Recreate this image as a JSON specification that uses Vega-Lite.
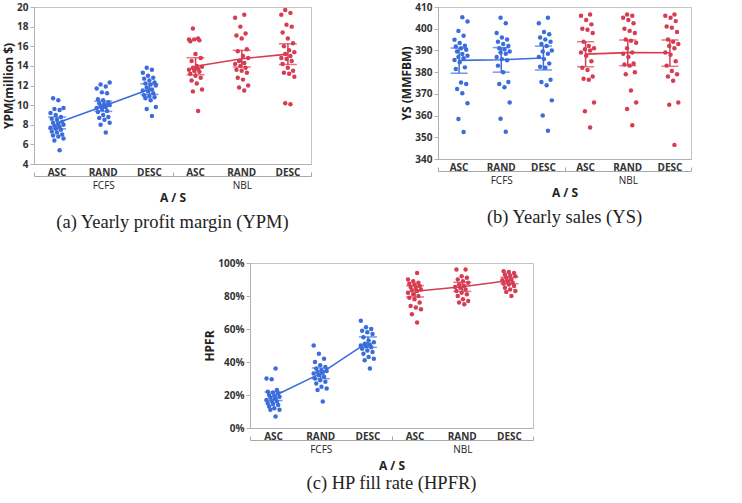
{
  "$schema": "https://vega.github.io/schema/vega-lite/v6.json",
  "padding": {"left": 2, "top": 1, "right": 0, "bottom": 0},
  "background": "white",
  "datasets": {
    "a": [
      {"A":"FCFS","S":"ASC","v":10.7},{"A":"FCFS","S":"ASC","v":10.5},{"A":"FCFS","S":"ASC","v":9.7},{"A":"FCFS","S":"ASC","v":9.6},{"A":"FCFS","S":"ASC","v":9.5},{"A":"FCFS","S":"ASC","v":9.2},{"A":"FCFS","S":"ASC","v":9.0},{"A":"FCFS","S":"ASC","v":8.8},{"A":"FCFS","S":"ASC","v":8.6},{"A":"FCFS","S":"ASC","v":8.5},{"A":"FCFS","S":"ASC","v":8.3},{"A":"FCFS","S":"ASC","v":8.2},{"A":"FCFS","S":"ASC","v":8.1},{"A":"FCFS","S":"ASC","v":8.0},{"A":"FCFS","S":"ASC","v":7.9},{"A":"FCFS","S":"ASC","v":7.8},{"A":"FCFS","S":"ASC","v":7.7},{"A":"FCFS","S":"ASC","v":7.6},{"A":"FCFS","S":"ASC","v":7.5},{"A":"FCFS","S":"ASC","v":7.3},{"A":"FCFS","S":"ASC","v":7.2},{"A":"FCFS","S":"ASC","v":7.0},{"A":"FCFS","S":"ASC","v":6.9},{"A":"FCFS","S":"ASC","v":6.8},{"A":"FCFS","S":"ASC","v":6.6},{"A":"FCFS","S":"ASC","v":6.4},{"A":"FCFS","S":"ASC","v":5.4},
      {"A":"FCFS","S":"RAND","v":12.3},{"A":"FCFS","S":"RAND","v":12.1},{"A":"FCFS","S":"RAND","v":11.9},{"A":"FCFS","S":"RAND","v":11.7},{"A":"FCFS","S":"RAND","v":11.3},{"A":"FCFS","S":"RAND","v":11.2},{"A":"FCFS","S":"RAND","v":10.6},{"A":"FCFS","S":"RAND","v":10.5},{"A":"FCFS","S":"RAND","v":10.3},{"A":"FCFS","S":"RAND","v":10.2},{"A":"FCFS","S":"RAND","v":10.1},{"A":"FCFS","S":"RAND","v":10.0},{"A":"FCFS","S":"RAND","v":9.9},{"A":"FCFS","S":"RAND","v":9.8},{"A":"FCFS","S":"RAND","v":9.7},{"A":"FCFS","S":"RAND","v":9.6},{"A":"FCFS","S":"RAND","v":9.4},{"A":"FCFS","S":"RAND","v":9.3},{"A":"FCFS","S":"RAND","v":9.0},{"A":"FCFS","S":"RAND","v":8.8},{"A":"FCFS","S":"RAND","v":8.7},{"A":"FCFS","S":"RAND","v":8.5},{"A":"FCFS","S":"RAND","v":8.2},{"A":"FCFS","S":"RAND","v":8.0},{"A":"FCFS","S":"RAND","v":7.2},
      {"A":"FCFS","S":"DESC","v":13.8},{"A":"FCFS","S":"DESC","v":13.6},{"A":"FCFS","S":"DESC","v":13.3},{"A":"FCFS","S":"DESC","v":13.0},{"A":"FCFS","S":"DESC","v":12.8},{"A":"FCFS","S":"DESC","v":12.7},{"A":"FCFS","S":"DESC","v":12.5},{"A":"FCFS","S":"DESC","v":12.3},{"A":"FCFS","S":"DESC","v":12.2},{"A":"FCFS","S":"DESC","v":12.1},{"A":"FCFS","S":"DESC","v":12.0},{"A":"FCFS","S":"DESC","v":11.8},{"A":"FCFS","S":"DESC","v":11.6},{"A":"FCFS","S":"DESC","v":11.5},{"A":"FCFS","S":"DESC","v":11.4},{"A":"FCFS","S":"DESC","v":11.2},{"A":"FCFS","S":"DESC","v":11.0},{"A":"FCFS","S":"DESC","v":10.9},{"A":"FCFS","S":"DESC","v":10.8},{"A":"FCFS","S":"DESC","v":10.7},{"A":"FCFS","S":"DESC","v":10.5},{"A":"FCFS","S":"DESC","v":9.8},{"A":"FCFS","S":"DESC","v":9.6},{"A":"FCFS","S":"DESC","v":8.9},
      {"A":"NBL","S":"ASC","v":17.8},{"A":"NBL","S":"ASC","v":16.8},{"A":"NBL","S":"ASC","v":16.7},{"A":"NBL","S":"ASC","v":16.7},{"A":"NBL","S":"ASC","v":16.6},{"A":"NBL","S":"ASC","v":16.5},{"A":"NBL","S":"ASC","v":15.2},{"A":"NBL","S":"ASC","v":14.8},{"A":"NBL","S":"ASC","v":14.5},{"A":"NBL","S":"ASC","v":14.0},{"A":"NBL","S":"ASC","v":13.9},{"A":"NBL","S":"ASC","v":13.8},{"A":"NBL","S":"ASC","v":13.7},{"A":"NBL","S":"ASC","v":13.6},{"A":"NBL","S":"ASC","v":13.5},{"A":"NBL","S":"ASC","v":13.4},{"A":"NBL","S":"ASC","v":13.2},{"A":"NBL","S":"ASC","v":13.0},{"A":"NBL","S":"ASC","v":12.8},{"A":"NBL","S":"ASC","v":12.5},{"A":"NBL","S":"ASC","v":12.2},{"A":"NBL","S":"ASC","v":11.6},{"A":"NBL","S":"ASC","v":11.4},{"A":"NBL","S":"ASC","v":9.4},
      {"A":"NBL","S":"RAND","v":19.2},{"A":"NBL","S":"RAND","v":18.9},{"A":"NBL","S":"RAND","v":18.0},{"A":"NBL","S":"RAND","v":17.3},{"A":"NBL","S":"RAND","v":17.1},{"A":"NBL","S":"RAND","v":16.8},{"A":"NBL","S":"RAND","v":15.7},{"A":"NBL","S":"RAND","v":15.5},{"A":"NBL","S":"RAND","v":15.0},{"A":"NBL","S":"RAND","v":14.8},{"A":"NBL","S":"RAND","v":14.5},{"A":"NBL","S":"RAND","v":14.3},{"A":"NBL","S":"RAND","v":14.2},{"A":"NBL","S":"RAND","v":14.0},{"A":"NBL","S":"RAND","v":13.8},{"A":"NBL","S":"RAND","v":13.6},{"A":"NBL","S":"RAND","v":13.5},{"A":"NBL","S":"RAND","v":13.3},{"A":"NBL","S":"RAND","v":12.8},{"A":"NBL","S":"RAND","v":12.6},{"A":"NBL","S":"RAND","v":12.0},{"A":"NBL","S":"RAND","v":11.8},{"A":"NBL","S":"RAND","v":11.5},
      {"A":"NBL","S":"DESC","v":19.7},{"A":"NBL","S":"DESC","v":19.4},{"A":"NBL","S":"DESC","v":19.2},{"A":"NBL","S":"DESC","v":18.2},{"A":"NBL","S":"DESC","v":18.0},{"A":"NBL","S":"DESC","v":17.4},{"A":"NBL","S":"DESC","v":16.8},{"A":"NBL","S":"DESC","v":16.3},{"A":"NBL","S":"DESC","v":16.0},{"A":"NBL","S":"DESC","v":15.6},{"A":"NBL","S":"DESC","v":15.4},{"A":"NBL","S":"DESC","v":15.2},{"A":"NBL","S":"DESC","v":15.0},{"A":"NBL","S":"DESC","v":14.8},{"A":"NBL","S":"DESC","v":14.7},{"A":"NBL","S":"DESC","v":14.5},{"A":"NBL","S":"DESC","v":14.2},{"A":"NBL","S":"DESC","v":13.8},{"A":"NBL","S":"DESC","v":13.5},{"A":"NBL","S":"DESC","v":13.3},{"A":"NBL","S":"DESC","v":13.2},{"A":"NBL","S":"DESC","v":12.9},{"A":"NBL","S":"DESC","v":10.2},{"A":"NBL","S":"DESC","v":10.1}
    ],
    "as": [
      {"A":"FCFS","S":"ASC","m":8.18,"lo":7.58,"hi":8.78},{"A":"FCFS","S":"RAND","m":9.88,"lo":9.36,"hi":10.4},{"A":"FCFS","S":"DESC","m":11.63,"lo":11.09,"hi":12.17},
      {"A":"NBL","S":"ASC","m":13.96,"lo":13.09,"hi":14.83},{"A":"NBL","S":"RAND","m":14.73,"lo":13.88,"hi":15.58},{"A":"NBL","S":"DESC","m":15.2,"lo":14.15,"hi":16.26}
    ],
    "b": [
      {"A":"FCFS","S":"ASC","v":405.3},{"A":"FCFS","S":"ASC","v":403.3},{"A":"FCFS","S":"ASC","v":399},{"A":"FCFS","S":"ASC","v":396.8},{"A":"FCFS","S":"ASC","v":394.9},{"A":"FCFS","S":"ASC","v":393.4},{"A":"FCFS","S":"ASC","v":392.2},{"A":"FCFS","S":"ASC","v":391.8},{"A":"FCFS","S":"ASC","v":391},{"A":"FCFS","S":"ASC","v":390.3},{"A":"FCFS","S":"ASC","v":389.5},{"A":"FCFS","S":"ASC","v":388.4},{"A":"FCFS","S":"ASC","v":387.5},{"A":"FCFS","S":"ASC","v":387},{"A":"FCFS","S":"ASC","v":386.4},{"A":"FCFS","S":"ASC","v":385.6},{"A":"FCFS","S":"ASC","v":384.5},{"A":"FCFS","S":"ASC","v":382.2},{"A":"FCFS","S":"ASC","v":381.4},{"A":"FCFS","S":"ASC","v":375.2},{"A":"FCFS","S":"ASC","v":374.5},{"A":"FCFS","S":"ASC","v":372.2},{"A":"FCFS","S":"ASC","v":370.3},{"A":"FCFS","S":"ASC","v":365.7},{"A":"FCFS","S":"ASC","v":358.4},{"A":"FCFS","S":"ASC","v":352.4},
      {"A":"FCFS","S":"RAND","v":405},{"A":"FCFS","S":"RAND","v":402.5},{"A":"FCFS","S":"RAND","v":398},{"A":"FCFS","S":"RAND","v":396},{"A":"FCFS","S":"RAND","v":395},{"A":"FCFS","S":"RAND","v":394},{"A":"FCFS","S":"RAND","v":393},{"A":"FCFS","S":"RAND","v":392},{"A":"FCFS","S":"RAND","v":391},{"A":"FCFS","S":"RAND","v":390.5},{"A":"FCFS","S":"RAND","v":389.5},{"A":"FCFS","S":"RAND","v":389},{"A":"FCFS","S":"RAND","v":388.5},{"A":"FCFS","S":"RAND","v":387},{"A":"FCFS","S":"RAND","v":386},{"A":"FCFS","S":"RAND","v":385.5},{"A":"FCFS","S":"RAND","v":383},{"A":"FCFS","S":"RAND","v":380},{"A":"FCFS","S":"RAND","v":375.5},{"A":"FCFS","S":"RAND","v":374.5},{"A":"FCFS","S":"RAND","v":373},{"A":"FCFS","S":"RAND","v":366},{"A":"FCFS","S":"RAND","v":358.5},{"A":"FCFS","S":"RAND","v":352.5},
      {"A":"FCFS","S":"DESC","v":405},{"A":"FCFS","S":"DESC","v":402.5},{"A":"FCFS","S":"DESC","v":398.5},{"A":"FCFS","S":"DESC","v":397.5},{"A":"FCFS","S":"DESC","v":396},{"A":"FCFS","S":"DESC","v":395},{"A":"FCFS","S":"DESC","v":394},{"A":"FCFS","S":"DESC","v":393},{"A":"FCFS","S":"DESC","v":392},{"A":"FCFS","S":"DESC","v":390},{"A":"FCFS","S":"DESC","v":389.5},{"A":"FCFS","S":"DESC","v":388.5},{"A":"FCFS","S":"DESC","v":387},{"A":"FCFS","S":"DESC","v":386},{"A":"FCFS","S":"DESC","v":384},{"A":"FCFS","S":"DESC","v":382.5},{"A":"FCFS","S":"DESC","v":382},{"A":"FCFS","S":"DESC","v":376.5},{"A":"FCFS","S":"DESC","v":375.5},{"A":"FCFS","S":"DESC","v":374},{"A":"FCFS","S":"DESC","v":367},{"A":"FCFS","S":"DESC","v":360},{"A":"FCFS","S":"DESC","v":353},
      {"A":"NBL","S":"ASC","v":406.5},{"A":"NBL","S":"ASC","v":406},{"A":"NBL","S":"ASC","v":404},{"A":"NBL","S":"ASC","v":402},{"A":"NBL","S":"ASC","v":400},{"A":"NBL","S":"ASC","v":399.5},{"A":"NBL","S":"ASC","v":398},{"A":"NBL","S":"ASC","v":394},{"A":"NBL","S":"ASC","v":392},{"A":"NBL","S":"ASC","v":391},{"A":"NBL","S":"ASC","v":390.5},{"A":"NBL","S":"ASC","v":390},{"A":"NBL","S":"ASC","v":389},{"A":"NBL","S":"ASC","v":387.5},{"A":"NBL","S":"ASC","v":385},{"A":"NBL","S":"ASC","v":382},{"A":"NBL","S":"ASC","v":381},{"A":"NBL","S":"ASC","v":378},{"A":"NBL","S":"ASC","v":377},{"A":"NBL","S":"ASC","v":376.5},{"A":"NBL","S":"ASC","v":366},{"A":"NBL","S":"ASC","v":362},{"A":"NBL","S":"ASC","v":354.5},
      {"A":"NBL","S":"RAND","v":406.5},{"A":"NBL","S":"RAND","v":406},{"A":"NBL","S":"RAND","v":405},{"A":"NBL","S":"RAND","v":404},{"A":"NBL","S":"RAND","v":402.5},{"A":"NBL","S":"RAND","v":400},{"A":"NBL","S":"RAND","v":399},{"A":"NBL","S":"RAND","v":398},{"A":"NBL","S":"RAND","v":395},{"A":"NBL","S":"RAND","v":394.5},{"A":"NBL","S":"RAND","v":393.5},{"A":"NBL","S":"RAND","v":391},{"A":"NBL","S":"RAND","v":389},{"A":"NBL","S":"RAND","v":388.5},{"A":"NBL","S":"RAND","v":387},{"A":"NBL","S":"RAND","v":384},{"A":"NBL","S":"RAND","v":383.5},{"A":"NBL","S":"RAND","v":383},{"A":"NBL","S":"RAND","v":380},{"A":"NBL","S":"RAND","v":379},{"A":"NBL","S":"RAND","v":371.5},{"A":"NBL","S":"RAND","v":366},{"A":"NBL","S":"RAND","v":363},{"A":"NBL","S":"RAND","v":355.5},
      {"A":"NBL","S":"DESC","v":406.5},{"A":"NBL","S":"DESC","v":406},{"A":"NBL","S":"DESC","v":405},{"A":"NBL","S":"DESC","v":403.5},{"A":"NBL","S":"DESC","v":401},{"A":"NBL","S":"DESC","v":400.5},{"A":"NBL","S":"DESC","v":398.5},{"A":"NBL","S":"DESC","v":395},{"A":"NBL","S":"DESC","v":394},{"A":"NBL","S":"DESC","v":393},{"A":"NBL","S":"DESC","v":392},{"A":"NBL","S":"DESC","v":391},{"A":"NBL","S":"DESC","v":389},{"A":"NBL","S":"DESC","v":388},{"A":"NBL","S":"DESC","v":385},{"A":"NBL","S":"DESC","v":383},{"A":"NBL","S":"DESC","v":380.5},{"A":"NBL","S":"DESC","v":379},{"A":"NBL","S":"DESC","v":378},{"A":"NBL","S":"DESC","v":376},{"A":"NBL","S":"DESC","v":366},{"A":"NBL","S":"DESC","v":365},{"A":"NBL","S":"DESC","v":346.5}
    ],
    "bs": [
      {"A":"FCFS","S":"ASC","m":385.4,"lo":379.5,"hi":391.1},{"A":"FCFS","S":"RAND","m":385.7,"lo":380,"hi":391.3},{"A":"FCFS","S":"DESC","m":386.5,"lo":381,"hi":392},
      {"A":"NBL","S":"ASC","m":388.3,"lo":382.5,"hi":394},{"A":"NBL","S":"RAND","m":389,"lo":383,"hi":394.8},{"A":"NBL","S":"DESC","m":388.9,"lo":382.7,"hi":394.8}
    ],
    "c": [
      {"A":"FCFS","S":"ASC","v":36},{"A":"FCFS","S":"ASC","v":30},{"A":"FCFS","S":"ASC","v":29.5},{"A":"FCFS","S":"ASC","v":23},{"A":"FCFS","S":"ASC","v":22},{"A":"FCFS","S":"ASC","v":21.5},{"A":"FCFS","S":"ASC","v":21},{"A":"FCFS","S":"ASC","v":20},{"A":"FCFS","S":"ASC","v":19.5},{"A":"FCFS","S":"ASC","v":19},{"A":"FCFS","S":"ASC","v":18.5},{"A":"FCFS","S":"ASC","v":18},{"A":"FCFS","S":"ASC","v":17},{"A":"FCFS","S":"ASC","v":16.5},{"A":"FCFS","S":"ASC","v":16},{"A":"FCFS","S":"ASC","v":15},{"A":"FCFS","S":"ASC","v":14.5},{"A":"FCFS","S":"ASC","v":14},{"A":"FCFS","S":"ASC","v":13},{"A":"FCFS","S":"ASC","v":12},{"A":"FCFS","S":"ASC","v":11},{"A":"FCFS","S":"ASC","v":11},{"A":"FCFS","S":"ASC","v":7},
      {"A":"FCFS","S":"RAND","v":50},{"A":"FCFS","S":"RAND","v":45},{"A":"FCFS","S":"RAND","v":42},{"A":"FCFS","S":"RAND","v":40},{"A":"FCFS","S":"RAND","v":38},{"A":"FCFS","S":"RAND","v":37},{"A":"FCFS","S":"RAND","v":36},{"A":"FCFS","S":"RAND","v":35},{"A":"FCFS","S":"RAND","v":34.5},{"A":"FCFS","S":"RAND","v":34},{"A":"FCFS","S":"RAND","v":33.5},{"A":"FCFS","S":"RAND","v":33},{"A":"FCFS","S":"RAND","v":32},{"A":"FCFS","S":"RAND","v":31},{"A":"FCFS","S":"RAND","v":30},{"A":"FCFS","S":"RAND","v":29},{"A":"FCFS","S":"RAND","v":28},{"A":"FCFS","S":"RAND","v":27},{"A":"FCFS","S":"RAND","v":25},{"A":"FCFS","S":"RAND","v":24},{"A":"FCFS","S":"RAND","v":23},{"A":"FCFS","S":"RAND","v":16},
      {"A":"FCFS","S":"DESC","v":65},{"A":"FCFS","S":"DESC","v":61},{"A":"FCFS","S":"DESC","v":60},{"A":"FCFS","S":"DESC","v":59},{"A":"FCFS","S":"DESC","v":58},{"A":"FCFS","S":"DESC","v":57},{"A":"FCFS","S":"DESC","v":55},{"A":"FCFS","S":"DESC","v":53},{"A":"FCFS","S":"DESC","v":52},{"A":"FCFS","S":"DESC","v":51},{"A":"FCFS","S":"DESC","v":50.5},{"A":"FCFS","S":"DESC","v":50},{"A":"FCFS","S":"DESC","v":49.5},{"A":"FCFS","S":"DESC","v":49},{"A":"FCFS","S":"DESC","v":48},{"A":"FCFS","S":"DESC","v":47},{"A":"FCFS","S":"DESC","v":46},{"A":"FCFS","S":"DESC","v":45},{"A":"FCFS","S":"DESC","v":43},{"A":"FCFS","S":"DESC","v":42},{"A":"FCFS","S":"DESC","v":41},{"A":"FCFS","S":"DESC","v":36},
      {"A":"NBL","S":"ASC","v":94},{"A":"NBL","S":"ASC","v":90},{"A":"NBL","S":"ASC","v":89},{"A":"NBL","S":"ASC","v":88},{"A":"NBL","S":"ASC","v":87.5},{"A":"NBL","S":"ASC","v":87},{"A":"NBL","S":"ASC","v":86},{"A":"NBL","S":"ASC","v":85.5},{"A":"NBL","S":"ASC","v":85},{"A":"NBL","S":"ASC","v":84},{"A":"NBL","S":"ASC","v":83.5},{"A":"NBL","S":"ASC","v":83},{"A":"NBL","S":"ASC","v":82},{"A":"NBL","S":"ASC","v":81},{"A":"NBL","S":"ASC","v":80},{"A":"NBL","S":"ASC","v":79},{"A":"NBL","S":"ASC","v":78},{"A":"NBL","S":"ASC","v":76},{"A":"NBL","S":"ASC","v":74},{"A":"NBL","S":"ASC","v":73},{"A":"NBL","S":"ASC","v":72},{"A":"NBL","S":"ASC","v":69},{"A":"NBL","S":"ASC","v":64},
      {"A":"NBL","S":"RAND","v":96},{"A":"NBL","S":"RAND","v":96},{"A":"NBL","S":"RAND","v":92},{"A":"NBL","S":"RAND","v":91},{"A":"NBL","S":"RAND","v":90},{"A":"NBL","S":"RAND","v":89},{"A":"NBL","S":"RAND","v":88},{"A":"NBL","S":"RAND","v":87},{"A":"NBL","S":"RAND","v":86},{"A":"NBL","S":"RAND","v":85.5},{"A":"NBL","S":"RAND","v":85},{"A":"NBL","S":"RAND","v":84},{"A":"NBL","S":"RAND","v":83},{"A":"NBL","S":"RAND","v":82},{"A":"NBL","S":"RAND","v":81},{"A":"NBL","S":"RAND","v":80},{"A":"NBL","S":"RAND","v":78},{"A":"NBL","S":"RAND","v":77},{"A":"NBL","S":"RAND","v":76},{"A":"NBL","S":"RAND","v":75},
      {"A":"NBL","S":"DESC","v":95},{"A":"NBL","S":"DESC","v":94.5},{"A":"NBL","S":"DESC","v":94},{"A":"NBL","S":"DESC","v":93},{"A":"NBL","S":"DESC","v":92.5},{"A":"NBL","S":"DESC","v":92},{"A":"NBL","S":"DESC","v":91},{"A":"NBL","S":"DESC","v":90},{"A":"NBL","S":"DESC","v":89.5},{"A":"NBL","S":"DESC","v":89},{"A":"NBL","S":"DESC","v":88},{"A":"NBL","S":"DESC","v":87.5},{"A":"NBL","S":"DESC","v":87},{"A":"NBL","S":"DESC","v":86},{"A":"NBL","S":"DESC","v":85},{"A":"NBL","S":"DESC","v":84},{"A":"NBL","S":"DESC","v":83},{"A":"NBL","S":"DESC","v":82.5},{"A":"NBL","S":"DESC","v":80}
    ],
    "cs": [
      {"A":"FCFS","S":"ASC","m":19.2,"lo":16.6,"hi":21.8},{"A":"FCFS","S":"RAND","m":33.1,"lo":29.9,"hi":36.4},{"A":"FCFS","S":"DESC","m":52,"lo":48.9,"hi":55.2},
      {"A":"NBL","S":"ASC","m":82.9,"lo":79.4,"hi":86.3},{"A":"NBL","S":"RAND","m":85.6,"lo":82.8,"hi":88.3},{"A":"NBL","S":"DESC","m":89.4,"lo":87.5,"hi":91.4}
    ],
    "none": []
  },
  "config": {
    "font": "Open Sans",
    "view": {"stroke": "#c4c4c4"},
    "axis": {"grid": false, "labelFont": "Open Sans", "labelFontSize": 10, "labelFontWeight": "bold", "labelColor": "#333", "titleFont": "Open Sans", "titleFontSize": 12, "titleFontWeight": "bold", "titleColor": "#222", "domainColor": "#b0b0b0", "tickColor": "#b0b0b0", "tickSize": 4},
    "axisY": {"titlePadding": 1, "labelPadding": 2, "labelOverlap": false},
    "legend": {"symbolType": "stroke", "symbolStrokeWidth": 2, "symbolSize": 300, "titleFont": "Open Sans", "titleFontSize": 10, "titleFontWeight": "normal", "titleColor": "#444", "labelFont": "Open Sans", "labelFontSize": 10, "labelColor": "#555", "offset": 3, "padding": 6, "rowPadding": 2, "titlePadding": 3},
    "title": {"font": "Liberation Serif", "fontSize": 18.5, "fontWeight": "normal", "color": "#222"}
  },
  "spacing": 25,
  "resolve": {"scale": {"x": "independent", "y": "independent", "fill": "independent", "stroke": "independent"}, "legend": {"stroke": "independent"}},
  "vconcat": [
    {
      "spacing": 88,
      "resolve": {"scale": {"x": "independent", "y": "independent", "fill": "independent", "stroke": "independent"}, "legend": {"stroke": "independent"}},
      "hconcat": [
        {
          "width": 277, "height": 157,
          "title": {"text": "(a) Yearly profit margin (YPM)", "orient": "bottom", "frame": "group", "anchor": "middle", "offset": 10},
          "resolve": {"scale": {"x": "independent"}},
          "layer": [
            {
              "encoding": {"x": {"field": "g", "type": "nominal", "scale": {"domain": ["FCFS|ASC","FCFS|RAND","FCFS|DESC","NBL|ASC","NBL|RAND","NBL|DESC"], "paddingInner": 0, "paddingOuter": 0}, "axis": {"title": null, "labelExpr": "split(datum.value, '|')[1]", "ticks": false, "labelPadding": 3, "labelAngle": 0}},
                "y": {"type": "quantitative", "scale": {"domain": [4, 20], "nice": false, "zero": false}, "axis": {"title": "YPM(million $)", "values": [4,6,8,10,12,14,16,18,20], "labelOverlap": false, "labelSeparation": 0}}},
              "layer": [
                {"data": {"name": "a"}, "transform": [{"calculate": "datum.A + '|' + datum.S", "as": "g"}, {"window": [{"op": "row_number", "as": "r"}], "groupby": ["g"], "sort": [{"field": "v"}]}, {"calculate": "((datum.r * 7) % 11) / 5 - 1", "as": "j"}],
                 "mark": {"type": "circle", "size": 20, "opacity": 1},
                 "encoding": {"xOffset": {"field": "j", "type": "quantitative", "scale": {"domain": [-1, 1], "range": [16.5, 29.5]}},
                   "y": {"field": "v"},
                   "fill": {"field": "A", "type": "nominal", "scale": {"domain": ["FCFS","NBL"], "range": ["#3b6cdc","#d53d52"]}, "legend": null}}},
                {"data": {"name": "as"}, "transform": [{"calculate": "datum.A + '|' + datum.S", "as": "g"}],
                 "mark": {"type": "line", "strokeWidth": 1.6},
                 "encoding": {"y": {"field": "m"}, "stroke": {"field": "A", "type": "nominal", "scale": {"domain": ["FCFS","NBL"], "range": ["#3b6cdc","#d53d52"]}, "legend": {"title": "A"}}}},
                {"data": {"name": "as"}, "transform": [{"calculate": "datum.A + '|' + datum.S", "as": "g"}],
                 "mark": {"type": "rule", "strokeWidth": 1.5},
                 "encoding": {"y": {"field": "lo"}, "y2": {"field": "hi"}, "stroke": {"field": "A", "type": "nominal"}}},
                {"data": {"name": "as"}, "transform": [{"calculate": "datum.A + '|' + datum.S", "as": "g"}],
                 "mark": {"type": "tick", "thickness": 1.5, "size": 18},
                 "encoding": {"y": {"field": "lo"}, "fill": {"field": "A", "type": "nominal"}}},
                {"data": {"name": "as"}, "transform": [{"calculate": "datum.A + '|' + datum.S", "as": "g"}],
                 "mark": {"type": "tick", "thickness": 1.5, "size": 18},
                 "encoding": {"y": {"field": "hi"}, "fill": {"field": "A", "type": "nominal"}}}
              ]
            },
            {
              "data": {"name": "as"},
              "mark": {"type": "point", "opacity": 0},
              "encoding": {"x": {"field": "A", "type": "nominal", "scale": {"domain": ["FCFS","NBL"], "paddingInner": 0, "paddingOuter": 0}, "axis": {"orient": "bottom", "offset": 12, "title": "A / S", "tickBand": "extent", "tickSize": -4, "labelAngle": 0, "labelFontSize": 10, "labelFontWeight": "normal", "labelColor": "#222", "labelPadding": 8, "titlePadding": 2, "domainColor": "#a8a8a8", "tickColor": "#a8a8a8"}}}
            }
          ]
        },
        {
          "width": 253, "height": 152,
          "title": {"text": "(b) Yearly sales (YS)", "orient": "bottom", "frame": "group", "anchor": "middle", "offset": 10},
          "resolve": {"scale": {"x": "independent"}},
          "layer": [
            {
              "encoding": {"x": {"field": "g", "type": "nominal", "scale": {"domain": ["FCFS|ASC","FCFS|RAND","FCFS|DESC","NBL|ASC","NBL|RAND","NBL|DESC"], "paddingInner": 0, "paddingOuter": 0}, "axis": {"title": null, "labelExpr": "split(datum.value, '|')[1]", "ticks": false, "labelPadding": 3, "labelAngle": 0}},
                "y": {"type": "quantitative", "scale": {"domain": [340, 410], "nice": false, "zero": false}, "axis": {"title": "YS (MMFBM)", "values": [340,350,360,370,380,390,400,410], "labelOverlap": false, "labelSeparation": 0}}},
              "layer": [
                {"data": {"name": "b"}, "transform": [{"calculate": "datum.A + '|' + datum.S", "as": "g"}, {"window": [{"op": "row_number", "as": "r"}], "groupby": ["g"], "sort": [{"field": "v"}]}, {"calculate": "((datum.r * 7) % 11) / 5 - 1", "as": "j"}],
                 "mark": {"type": "circle", "size": 20, "opacity": 1},
                 "encoding": {"xOffset": {"field": "j", "type": "quantitative", "scale": {"domain": [-1, 1], "range": [15, 27]}},
                   "y": {"field": "v"},
                   "fill": {"field": "A", "type": "nominal", "scale": {"domain": ["FCFS","NBL"], "range": ["#3b6cdc","#d53d52"]}, "legend": null}}},
                {"data": {"name": "bs"}, "transform": [{"calculate": "datum.A + '|' + datum.S", "as": "g"}],
                 "mark": {"type": "line", "strokeWidth": 1.6},
                 "encoding": {"y": {"field": "m"}, "stroke": {"field": "A", "type": "nominal", "scale": {"domain": ["FCFS","NBL"], "range": ["#3b6cdc","#d53d52"]}, "legend": {"title": "A"}}}},
                {"data": {"name": "bs"}, "transform": [{"calculate": "datum.A + '|' + datum.S", "as": "g"}],
                 "mark": {"type": "rule", "strokeWidth": 1.5},
                 "encoding": {"y": {"field": "lo"}, "y2": {"field": "hi"}, "stroke": {"field": "A", "type": "nominal"}}},
                {"data": {"name": "bs"}, "transform": [{"calculate": "datum.A + '|' + datum.S", "as": "g"}],
                 "mark": {"type": "tick", "thickness": 1.5, "size": 17},
                 "encoding": {"y": {"field": "lo"}, "fill": {"field": "A", "type": "nominal"}}},
                {"data": {"name": "bs"}, "transform": [{"calculate": "datum.A + '|' + datum.S", "as": "g"}],
                 "mark": {"type": "tick", "thickness": 1.5, "size": 17},
                 "encoding": {"y": {"field": "hi"}, "fill": {"field": "A", "type": "nominal"}}}
              ]
            },
            {
              "data": {"name": "bs"},
              "mark": {"type": "point", "opacity": 0},
              "encoding": {"x": {"field": "A", "type": "nominal", "scale": {"domain": ["FCFS","NBL"], "paddingInner": 0, "paddingOuter": 0}, "axis": {"orient": "bottom", "offset": 12, "title": "A / S", "tickBand": "extent", "tickSize": -4, "labelAngle": 0, "labelFontSize": 10, "labelFontWeight": "normal", "labelColor": "#222", "labelPadding": 8, "titlePadding": 2, "domainColor": "#a8a8a8", "tickColor": "#a8a8a8"}}}
            }
          ]
        }
      ]
    },
    {
      "spacing": 0,
      "resolve": {"scale": {"x": "independent", "y": "independent", "fill": "independent", "stroke": "independent"}, "legend": {"stroke": "independent"}},
      "hconcat": [
        {
          "width": 169, "height": 10,
          "view": {"stroke": null},
          "data": {"name": "none"},
          "mark": {"type": "point", "opacity": 0},
          "encoding": {}
        },
        {
          "width": 283, "height": 165,
          "title": {"text": "(c) HP fill rate (HPFR)", "orient": "bottom", "frame": "group", "anchor": "middle", "offset": 3},
          "resolve": {"scale": {"x": "independent"}},
          "layer": [
            {
              "encoding": {"x": {"field": "g", "type": "nominal", "scale": {"domain": ["FCFS|ASC","FCFS|RAND","FCFS|DESC","NBL|ASC","NBL|RAND","NBL|DESC"], "paddingInner": 0, "paddingOuter": 0}, "axis": {"title": null, "labelExpr": "split(datum.value, '|')[1]", "ticks": false, "labelPadding": 3, "labelAngle": 0}},
                "y": {"type": "quantitative", "scale": {"domain": [0, 100], "nice": false}, "axis": {"title": "HPFR", "values": [0,20,40,60,80,100], "labelExpr": "datum.value + '%'", "labelOverlap": false, "labelSeparation": 0}}},
              "layer": [
                {"data": {"name": "c"}, "transform": [{"calculate": "datum.A + '|' + datum.S", "as": "g"}, {"window": [{"op": "row_number", "as": "r"}], "groupby": ["g"], "sort": [{"field": "v"}]}, {"calculate": "((datum.r * 7) % 11) / 5 - 1", "as": "j"}],
                 "mark": {"type": "circle", "size": 20, "opacity": 1},
                 "encoding": {"xOffset": {"field": "j", "type": "quantitative", "scale": {"domain": [-1, 1], "range": [17, 30]}},
                   "y": {"field": "v"},
                   "fill": {"field": "A", "type": "nominal", "scale": {"domain": ["FCFS","NBL"], "range": ["#3b6cdc","#d53d52"]}, "legend": null}}},
                {"data": {"name": "cs"}, "transform": [{"calculate": "datum.A + '|' + datum.S", "as": "g"}],
                 "mark": {"type": "line", "strokeWidth": 1.6},
                 "encoding": {"y": {"field": "m"}, "stroke": {"field": "A", "type": "nominal", "scale": {"domain": ["FCFS","NBL"], "range": ["#3b6cdc","#d53d52"]}, "legend": {"title": "A"}}}},
                {"data": {"name": "cs"}, "transform": [{"calculate": "datum.A + '|' + datum.S", "as": "g"}],
                 "mark": {"type": "rule", "strokeWidth": 1.5},
                 "encoding": {"y": {"field": "lo"}, "y2": {"field": "hi"}, "stroke": {"field": "A", "type": "nominal"}}},
                {"data": {"name": "cs"}, "transform": [{"calculate": "datum.A + '|' + datum.S", "as": "g"}],
                 "mark": {"type": "tick", "thickness": 1.5, "size": 18},
                 "encoding": {"y": {"field": "lo"}, "fill": {"field": "A", "type": "nominal"}}},
                {"data": {"name": "cs"}, "transform": [{"calculate": "datum.A + '|' + datum.S", "as": "g"}],
                 "mark": {"type": "tick", "thickness": 1.5, "size": 18},
                 "encoding": {"y": {"field": "hi"}, "fill": {"field": "A", "type": "nominal"}}}
              ]
            },
            {
              "data": {"name": "cs"},
              "mark": {"type": "point", "opacity": 0},
              "encoding": {"x": {"field": "A", "type": "nominal", "scale": {"domain": ["FCFS","NBL"], "paddingInner": 0, "paddingOuter": 0}, "axis": {"orient": "bottom", "offset": 12, "title": "A / S", "tickBand": "extent", "tickSize": -4, "labelAngle": 0, "labelFontSize": 10, "labelFontWeight": "normal", "labelColor": "#222", "labelPadding": 8, "titlePadding": 6, "domainColor": "#a8a8a8", "tickColor": "#a8a8a8"}}}
            }
          ]
        }
      ]
    }
  ]
}
